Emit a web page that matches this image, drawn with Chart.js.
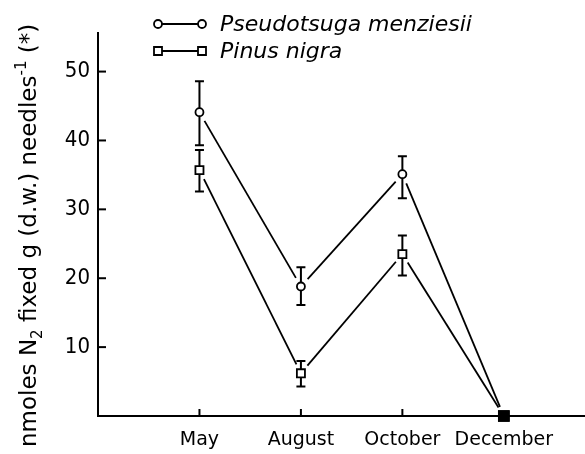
<!DOCTYPE html>
<html>
<head>
<meta charset="utf-8">
<script src="https://cdn.jsdelivr.net/npm/chart.js@4.4.0/dist/chart.umd.min.js"></script>
<style>
  html, body { margin: 0; padding: 0; background: #fff; }
</style>
</head>
<body>
<canvas id="c" width="585" height="454"></canvas>
<script>
/* -------- Daten -------- */
const months = ["May", "August", "October", "December"];
const monthPos = [1, 2, 3, 4];
const yTicks = [10, 20, 30, 40, 50];

const pseudoValues = [44.1, 18.8, 35.1, 0];
const pseudoUpper = [48.6, 21.6, 37.7, null];
const pseudoLower = [39.3, 16.1, 31.6, null];

const pinusValues = [35.7, 6.2, 23.5, 0];
const pinusUpper = [38.6, 8.0, 26.2, null];
const pinusLower = [32.6, 4.3, 20.4, null];

const FONT = "'DejaVu Sans', sans-serif";
const FONT_COND = "'DejaVu Sans Condensed', 'DejaVu Sans', sans-serif";

const toPoints = vals => vals.map((v, i) => ({ x: monthPos[i], y: v }));

/* -------- Linien mit Lücken + Fehlerbalken -------- */
const linesPlugin = {
  id: "gappedLines",
  beforeDatasetsDraw(chart) {
    const ctx = chart.ctx;
    const y = chart.scales.y;
    const errs = [[pseudoUpper, pseudoLower], [pinusUpper, pinusLower]];
    ctx.save();
    ctx.strokeStyle = "#000";
    chart.data.datasets.forEach((ds, di) => {
      const pts = chart.getDatasetMeta(di).data;
      // Verbindungslinien, kurz vor den Markern unterbrochen
      ctx.lineWidth = 1.8;
      const gap = 10;
      for (let i = 0; i < pts.length - 1; i++) {
        const a = pts[i], b = pts[i + 1];
        const dx = b.x - a.x, dy = b.y - a.y;
        const len = Math.hypot(dx, dy);
        const ux = dx / len, uy = dy / len;
        ctx.beginPath();
        ctx.moveTo(a.x + ux * gap, a.y + uy * gap);
        ctx.lineTo(b.x - ux * gap, b.y - uy * gap);
        ctx.stroke();
      }
      // Fehlerbalken
      ctx.lineWidth = 2;
      const [up, lo] = errs[di];
      pts.forEach((p, i) => {
        if (up[i] == null) return;
        const yt = y.getPixelForValue(up[i]);
        const yb = y.getPixelForValue(lo[i]);
        ctx.beginPath();
        ctx.moveTo(p.x, yt); ctx.lineTo(p.x, yb);
        ctx.moveTo(p.x - 4.5, yt); ctx.lineTo(p.x + 4.5, yt);
        ctx.moveTo(p.x - 4.5, yb); ctx.lineTo(p.x + 4.5, yb);
        ctx.stroke();
      });
    });
    ctx.restore();
  }
};

/* -------- Achsen-Ticks innen, Legende, Y-Titel -------- */
const decorPlugin = {
  id: "decor",
  afterDraw(chart) {
    const ctx = chart.ctx;
    const { x, y } = chart.scales;
    const area = chart.chartArea;
    ctx.save();
    ctx.strokeStyle = "#000";
    ctx.fillStyle = "#000";
    ctx.lineWidth = 2;

    // innere Tickmarken
    yTicks.forEach(v => {
      const py = y.getPixelForValue(v);
      ctx.beginPath(); ctx.moveTo(area.left, py); ctx.lineTo(area.left + 8, py); ctx.stroke();
    });
    monthPos.slice(0, 3).forEach(v => {
      const px = x.getPixelForValue(v);
      ctx.beginPath(); ctx.moveTo(px, area.bottom); ctx.lineTo(px, area.bottom - 7); ctx.stroke();
    });

    // Legende
    const legend = [
      { label: "Pseudotsuga menziesii", style: "circle", y: 24 },
      { label: "Pinus nigra", style: "rect", y: 51 }
    ];
    legend.forEach(l => {
      ctx.lineWidth = 1.8;
      ctx.beginPath(); ctx.moveTo(158, l.y); ctx.lineTo(202, l.y); ctx.stroke();
      [158, 202].forEach(px => {
        ctx.fillStyle = "#fff";
        ctx.beginPath();
        if (l.style === "circle") ctx.arc(px, l.y, 4, 0, Math.PI * 2);
        else ctx.rect(px - 4, l.y - 4, 8, 8);
        ctx.fill(); ctx.stroke();
      });
      ctx.fillStyle = "#000";
      ctx.font = "italic 22px " + FONT;
      ctx.textBaseline = "middle";
      ctx.textAlign = "left";
      ctx.fillText(l.label, 220, l.y + 1);
    });

    // Y-Titel mit Sub-/Superscript
    ctx.translate(36, 447);
    ctx.rotate(-Math.PI / 2);
    ctx.textBaseline = "alphabetic";
    const parts = [
      ["nmoles N", 23, 0],
      ["2", 15, 6],
      [" fixed g (d.w.) needles", 23, 0],
      ["-1", 15, -10],
      [" (*)", 23, 0]
    ];
    let cx = 0;
    parts.forEach(([t, size, off]) => {
      ctx.font = size + "px " + FONT;
      ctx.fillText(t, cx, off);
      cx += ctx.measureText(t).width;
    });
    ctx.restore();
  }
};

new Chart(document.getElementById("c").getContext("2d"), {
  type: "line",
  data: {
    datasets: [
      {
        label: "Pseudotsuga menziesii",
        data: toPoints(pseudoValues),
        showLine: false,
        clip: false,
        pointStyle: ["circle", "circle", "circle", "rect"],
        pointRadius: [4, 4, 4, 7],
        pointBackgroundColor: ["#fff", "#fff", "#fff", "#000"],
        pointBorderColor: "#000",
        pointBorderWidth: 1.8
      },
      {
        label: "Pinus nigra",
        data: toPoints(pinusValues),
        showLine: false,
        clip: false,
        pointStyle: "rect",
        pointRadius: [5.7, 5.7, 5.7, 7],
        pointBackgroundColor: ["#fff", "#fff", "#fff", "#000"],
        pointBorderColor: "#000",
        pointBorderWidth: 1.8
      }
    ]
  },
  options: {
    responsive: false,
    animation: false,
    devicePixelRatio: 1,
    layout: { autoPadding: false, padding: { top: 33, right: 0, left: 0, bottom: 0 } },
    plugins: { legend: { display: false }, tooltip: { enabled: false } },
    scales: {
      x: {
        type: "linear",
        min: 0,
        max: 4.8,
        afterBuildTicks: s => { s.ticks = monthPos.map(v => ({ value: v })); },
        afterFit: s => { s.height = 38; s.paddingLeft = 0; s.paddingRight = 0; },
        grid: { display: true, drawOnChartArea: false, drawTicks: false },
        border: { display: true, color: "#000", width: 2 },
        ticks: {
          padding: 13,
          color: "#000",
          font: { family: FONT, size: 19 },
          maxRotation: 0,
          autoSkip: false,
          callback: v => months[monthPos.indexOf(v)] ?? ""
        }
      },
      y: {
        min: 0,
        max: 55.6,
        afterBuildTicks: s => { s.ticks = yTicks.map(v => ({ value: v })); },
        afterFit: s => { s.width = 98; s.paddingTop = 0; s.paddingBottom = 0; },
        grid: { display: true, drawOnChartArea: false, drawTicks: false },
        border: { display: true, color: "#000", width: 2 },
        ticks: {
          padding: 8,
          color: "#000",
          font: { family: FONT_COND, size: 22 }
        }
      }
    }
  },
  plugins: [linesPlugin, decorPlugin]
});
</script>
</body>
</html>
